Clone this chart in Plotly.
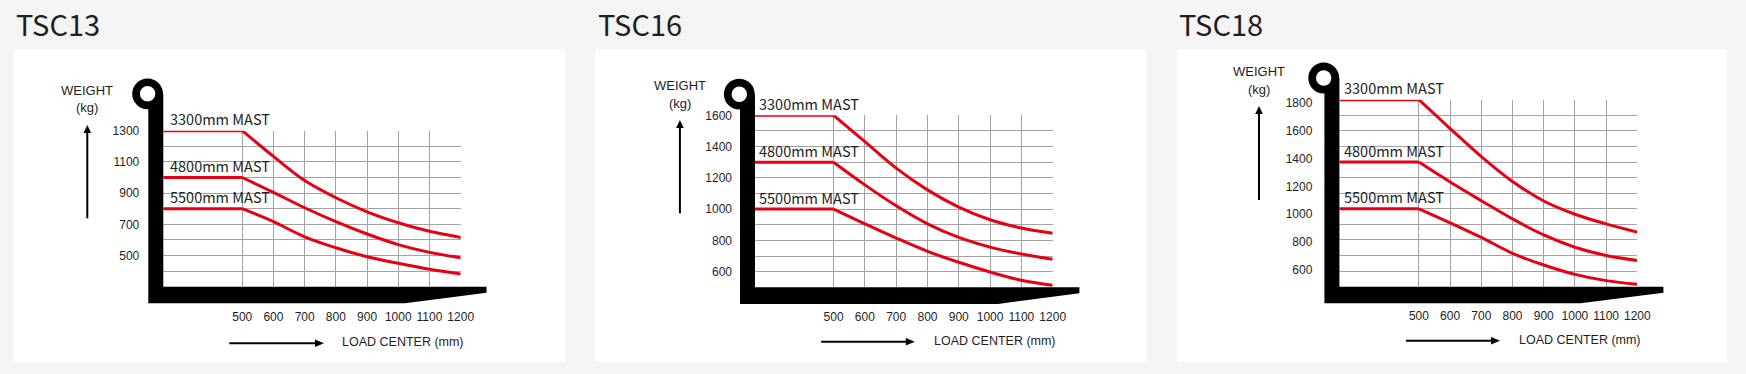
import plotly.graph_objects as go

W, H = 1746, 374

# ---------------- data ----------------
MODELS = ["TSC13", "TSC16", "TSC18"]
MASTS = ["3300mm MAST", "4800mm MAST", "5500mm MAST"]
LOAD_CENTERS = [500, 600, 700, 800, 900, 1000, 1100, 1200]

TSC13_3300 = [1300, 1135, 980, 870, 780, 710, 655, 616]
TSC13_4800 = [1000, 905, 806, 717, 638, 570, 520, 486]
TSC13_5500 = [800, 717, 620, 550, 492, 450, 412, 382]

TSC16_3300 = [1600, 1432, 1262, 1123, 1013, 932, 879, 846]
TSC16_4800 = [1300, 1155, 1021, 906, 819, 757, 713, 680]
TSC16_5500 = [1000, 906, 815, 730, 660, 598, 545, 513]

TSC18_3300 = [1800, 1615, 1435, 1275, 1150, 1065, 1003, 950]
TSC18_4800 = [1400, 1272, 1152, 1035, 932, 853, 800, 768]
TSC18_5500 = [1100, 1010, 916, 814, 739, 679, 639, 615]

TSC13_YTICKS = [500, 700, 900, 1100, 1300]
TSC16_YTICKS = [600, 800, 1000, 1200, 1400, 1600]
TSC18_YTICKS = [600, 800, 1000, 1200, 1400, 1600, 1800]

SERIES = [
    [TSC13_3300, TSC13_4800, TSC13_5500],
    [TSC16_3300, TSC16_4800, TSC16_5500],
    [TSC18_3300, TSC18_4800, TSC18_5500],
]
YTICKS = [TSC13_YTICKS, TSC16_YTICKS, TSC18_YTICKS]

# ---------------- style / layout ----------------
BG = "#f4f4f4"
RED = "#e60012"
GRID = "#a3a3a3"
INK = "#1e1e1e"
NARROW = "Liberation Sans Narrow, Liberation Sans, Arial, sans-serif"
CJK = "Noto Sans CJK SC, Noto Sans, sans-serif"
TICK_SIZE = 12

PANELS = [
    dict(gl=163.3, gr=460.7, gt=130.7, gb=286.7, xmin=247, yr=[300, 1300], cy=93.8,
         slope=241.7, tip=323.2, card=(13, 565), tx=14.8, weight=(86.8, 90.8), kg=(86.7, 107.5),
         yarrow=(87.3, 218.3, 125), xarrow=(229.3, 324, 343.3), load=(402.5, 342.3), mastdx=6,
         ystand=23, xstand=21, lab_range=None),
    dict(gl=755.0, gr=1052.7, gt=115.3, gb=287.3, xmin=249, yr=[500, 1600], cy=94.2,
         slope=243, tip=324.4, card=(595.2, 1147), tx=596.6, weight=(679.9, 85.8), kg=(679.9, 103.7),
         yarrow=(679.9, 213.3, 120), xarrow=(821.2, 914.8, 341.7), load=(994.7, 340.7), mastdx=3.7,
         ystand=22, xstand=21, lab_range=None),
    dict(gl=1339.4, gr=1637.3, gt=99.7, gb=286.7, xmin=245, yr=[600, 1800], cy=78,
         slope=241, tip=324, card=(1176.8, 1727), tx=1177.9, weight=(1259, 71.7), kg=(1259, 89.3),
         yarrow=(1259, 200, 106), xarrow=(1405.9, 1500, 340.7), load=(1579.5, 340), mastdx=4,
         ystand=26, xstand=20, lab_range=[480, 1822]),
]


def fx(x):
    return x / W


def fy(y):
    return 1 - y / H


fig = go.Figure()
layout = dict(
    width=W, height=H, margin=dict(l=0, r=0, t=0, b=0, autoexpand=False),
    paper_bgcolor=BG, plot_bgcolor="rgba(0,0,0,0)", showlegend=False,
)
shapes = []
annotations = []
tickfont = dict(family=NARROW, size=TICK_SIZE, color=INK)

for i, p in enumerate(PANELS):
    xa = "x" if i == 0 else f"x{i+1}"
    ya = "y" if i == 0 else f"y{i+1}"
    xkey = "xaxis" if i == 0 else f"xaxis{i+1}"
    ykey = "yaxis" if i == 0 else f"yaxis{i+1}"

    layout[xkey] = dict(
        domain=[fx(p["gl"]), fx(p["gr"])], range=[p["xmin"], 1200], anchor=ya,
        tickvals=LOAD_CENTERS, ticktext=[str(v) for v in LOAD_CENTERS], tickangle=0,
        showgrid=True, gridcolor=GRID, gridwidth=1, zeroline=False, showline=False,
        ticks="", ticklabelstandoff=int(p["xstand"]), automargin=False, fixedrange=True,
        tickfont=tickfont,
    )
    ydict = dict(
        domain=[fy(p["gb"]), fy(p["gt"])], range=p["yr"], anchor=xa, automargin=False,
        showgrid=True, gridcolor=GRID, gridwidth=1, zeroline=False, showline=False,
        ticks="", fixedrange=True,
        minor=dict(dtick=100, tick0=0, showgrid=True, gridcolor=GRID, gridwidth=1),
    )
    if p["lab_range"] is None:
        ydict.update(tickvals=YTICKS[i], ticktext=[str(v) for v in YTICKS[i]],
                     ticklabelstandoff=int(p["ystand"]), tickfont=tickfont)
    else:
        ydict.update(dtick=100, tick0=0, showticklabels=False)
    layout[ykey] = ydict

    if p["lab_range"] is not None:
        # the printed kg scale of this panel is offset from its grid, so it gets its own axis
        layout["yaxis4"] = dict(
            domain=[fy(p["gb"]), fy(p["gt"])], range=p["lab_range"], anchor=xa, automargin=False,
            overlaying=ya, side="left", showgrid=False, zeroline=False, showline=False,
            tickvals=YTICKS[i], ticktext=[str(v) for v in YTICKS[i]], ticks="", fixedrange=True,
            ticklabelstandoff=int(p["ystand"]), tickfont=tickfont,
        )
        fig.add_trace(go.Scatter(x=[1200] * len(YTICKS[i]), y=YTICKS[i], xaxis=xa, yaxis="y4",
                                 mode="markers", marker=dict(opacity=0, size=1),
                                 hoverinfo="skip", showlegend=False))

    # card
    shapes.append(dict(type="rect", xref="paper", yref="paper", layer="below",
                       x0=fx(p["card"][0]), x1=fx(p["card"][1]), y0=fy(361.7), y1=fy(49),
                       fillcolor="white", line=dict(width=0)))

    # curves
    for m, vals in enumerate(SERIES[i]):
        fig.add_trace(go.Scatter(x=[p["xmin"], LOAD_CENTERS[0]], y=[vals[0], vals[0]],
                                 xaxis=xa, yaxis=ya, mode="lines", cliponaxis=False,
                                 line=dict(color=RED, width=3), hoverinfo="skip"))
        fig.add_trace(go.Scatter(x=LOAD_CENTERS, y=vals, xaxis=xa, yaxis=ya, mode="lines",
                                 cliponaxis=False, line=dict(color=RED, width=3, shape="spline",
                                                             smoothing=1.0), hoverinfo="skip"))
        annotations.append(dict(x=p["xmin"], y=vals[0], xref=xa, yref=ya, text=MASTS[m],
                                showarrow=False, xanchor="left", yanchor="bottom",
                                xshift=p["mastdx"] - 1.5, yshift=-0.5,
                                font=dict(family=CJK, size=14.5, color=INK)))

    # black fork (L shape)
    gl, gb = p["gl"], p["gb"]
    bl = gl - 15
    bot = gb + 16.6
    pts = [(bl, p["cy"]), (gl, p["cy"]), (gl, gb), (gl + p["tip"], gb), (gl + p["tip"], gb + 6),
           (gl + p["slope"], bot), (bl, bot)]
    path = "M " + " L ".join(f"{fx(a):.6f},{fy(b):.6f}" for a, b in pts) + " Z"
    shapes.append(dict(type="path", xref="paper", yref="paper", path=path, layer="above",
                       fillcolor="black", line=dict(width=0)))
    cx, r, rh = gl - 15.7, 15.4, 7.7
    shapes.append(dict(type="circle", xref="paper", yref="paper", layer="above",
                       x0=fx(cx - r), x1=fx(cx + r), y0=fy(p["cy"] + r), y1=fy(p["cy"] - r),
                       fillcolor="black", line=dict(width=0)))
    shapes.append(dict(type="circle", xref="paper", yref="paper", layer="above",
                       x0=fx(cx - rh), x1=fx(cx + rh), y0=fy(p["cy"] + rh), y1=fy(p["cy"] - rh),
                       fillcolor="white", line=dict(width=0)))

    # arrows
    ax, ay0, ay1 = p["yarrow"]
    shapes.append(dict(type="line", xref="paper", yref="paper", x0=fx(ax), x1=fx(ax),
                       y0=fy(ay0), y1=fy(ay1 + 6), line=dict(color="black", width=2)))
    shapes.append(dict(type="path", xref="paper", yref="paper", fillcolor="black", line=dict(width=0),
                       path=f"M {fx(ax-3.8)},{fy(ay1+8)} L {fx(ax+3.8)},{fy(ay1+8)} L {fx(ax)},{fy(ay1)} Z"))
    bx0, bx1, by = p["xarrow"]
    shapes.append(dict(type="line", xref="paper", yref="paper", x0=fx(bx0), x1=fx(bx1 - 6),
                       y0=fy(by), y1=fy(by), line=dict(color="black", width=2)))
    shapes.append(dict(type="path", xref="paper", yref="paper", fillcolor="black", line=dict(width=0),
                       path=f"M {fx(bx1-9)},{fy(by-3.8)} L {fx(bx1-9)},{fy(by+3.8)} L {fx(bx1)},{fy(by)} Z"))

    # texts
    annotations.append(dict(x=fx(p["tx"]), y=fy(22.8), xref="paper", yref="paper", text=MODELS[i],
                            showarrow=False, xanchor="left", yanchor="middle", xshift=-1,
                            font=dict(family=CJK, size=29, color=INK)))
    annotations.append(dict(x=fx(p["weight"][0]), y=fy(p["weight"][1]), xref="paper", yref="paper",
                            text="WEIGHT", showarrow=False, xanchor="center", yanchor="middle",
                            font=dict(family=NARROW, size=13, color=INK)))
    annotations.append(dict(x=fx(p["kg"][0]), y=fy(p["kg"][1]), xref="paper", yref="paper",
                            text="(kg)", showarrow=False, xanchor="center", yanchor="middle",
                            font=dict(family=NARROW, size=13, color=INK)))
    annotations.append(dict(x=fx(p["load"][0]), y=fy(p["load"][1]), xref="paper", yref="paper",
                            text="LOAD CENTER (mm)", showarrow=False, xanchor="center", yanchor="middle",
                            font=dict(family=NARROW, size=12.5, color=INK)))

layout["shapes"] = shapes
layout["annotations"] = annotations
fig.update_layout(**layout)
fig.write_html("out.html", config={"displayModeBar": False, "staticPlot": True},
               post_script="document.body.style.margin='0';document.body.style.overflow='hidden';")
